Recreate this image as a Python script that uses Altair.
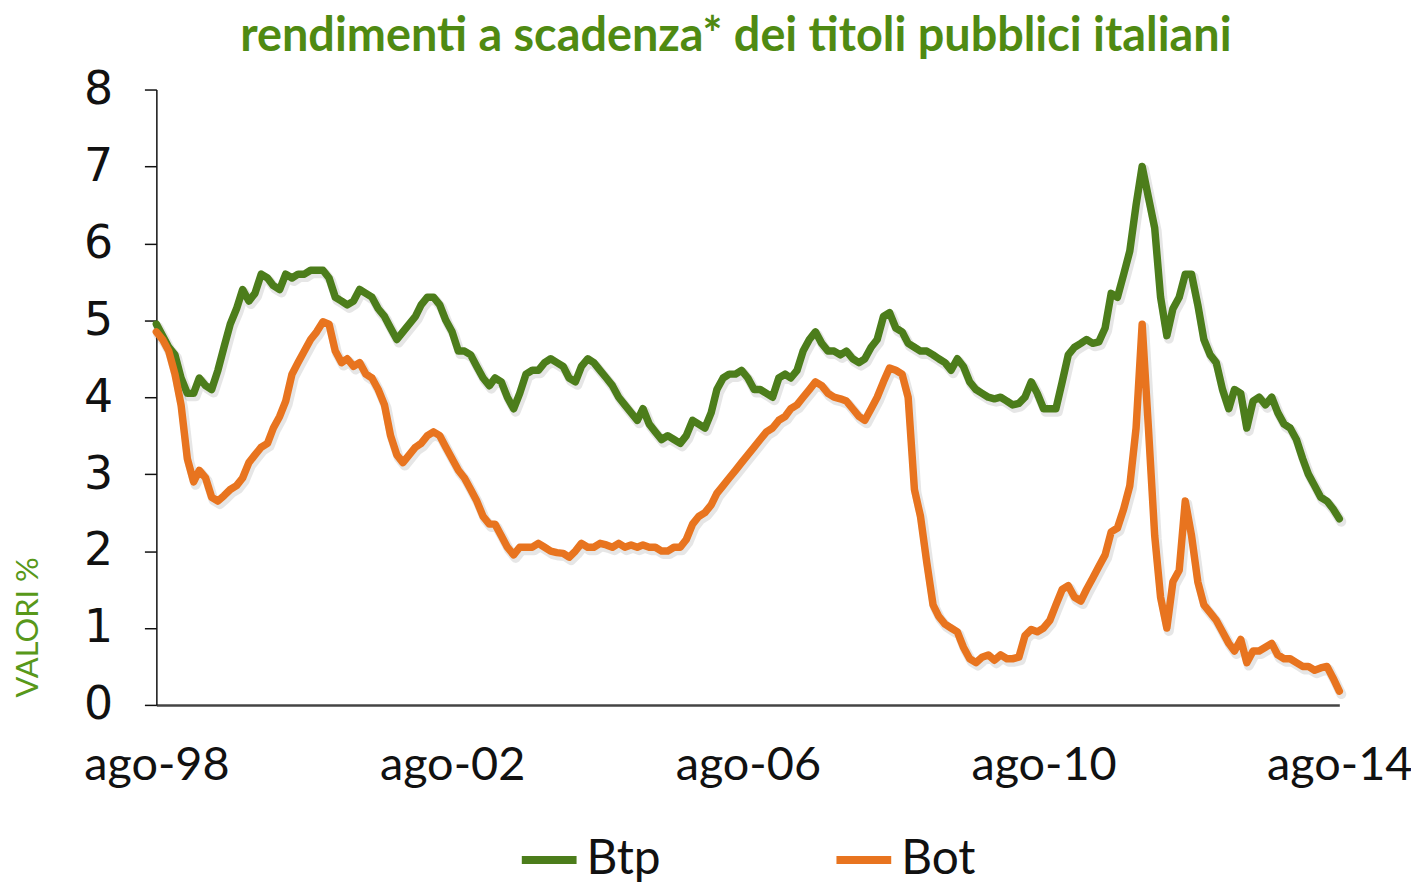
import altair as alt
import pandas as pd

# Monthly observations, ago-1998 .. ago-2014 (193 months)
btp = [
    4.95, 4.8, 4.65, 4.55, 4.25, 4.05, 4.05, 4.25, 4.15, 4.1,
    4.35, 4.65, 4.95, 5.15, 5.4, 5.25, 5.35, 5.6, 5.55, 5.45,
    5.4, 5.6, 5.55, 5.6, 5.6, 5.65, 5.65, 5.65, 5.55, 5.3,
    5.25, 5.2, 5.25, 5.4, 5.35, 5.3, 5.15, 5.05, 4.9, 4.75,
    4.85, 4.95, 5.05, 5.2, 5.3, 5.3, 5.2, 5.0, 4.85, 4.6,
    4.6, 4.55, 4.4, 4.25, 4.15, 4.25, 4.2, 4.0, 3.85, 4.05,
    4.3, 4.35, 4.35, 4.45, 4.5, 4.45, 4.4, 4.25, 4.2, 4.4,
    4.5, 4.45, 4.35, 4.25, 4.15, 4.0, 3.9, 3.8, 3.7, 3.85,
    3.65, 3.55, 3.45, 3.5, 3.45, 3.4, 3.5, 3.7, 3.65, 3.6,
    3.8, 4.1, 4.25, 4.3, 4.3, 4.35, 4.25, 4.1, 4.1, 4.05,
    4.0, 4.25, 4.3, 4.25, 4.35, 4.6, 4.75, 4.85, 4.7, 4.6,
    4.6, 4.55, 4.6, 4.5, 4.45, 4.5, 4.65, 4.75, 5.05, 5.1,
    4.9, 4.85, 4.7, 4.65, 4.6, 4.6, 4.55, 4.5, 4.45, 4.35,
    4.5, 4.4, 4.2, 4.1, 4.05, 4.0, 3.98, 4.0, 3.95, 3.9,
    3.92, 4.0, 4.2, 4.05, 3.85, 3.85, 3.85, 4.2, 4.55, 4.65,
    4.7, 4.75, 4.7, 4.72, 4.9, 5.35, 5.3, 5.6, 5.9, 6.5,
    7.0, 6.6, 6.2, 5.3, 4.8, 5.15, 5.3, 5.6, 5.6, 5.2,
    4.75, 4.55, 4.45, 4.1, 3.85, 4.1, 4.05, 3.6, 3.95, 4.0,
    3.9, 4.0, 3.8, 3.65, 3.6, 3.45, 3.2, 3.0, 2.85, 2.7,
    2.65, 2.55, 2.42,
]

bot = [
    4.85, 4.75, 4.6, 4.3, 3.9, 3.2, 2.9, 3.05, 2.95, 2.7,
    2.65, 2.72, 2.8, 2.85, 2.95, 3.15, 3.25, 3.35, 3.4, 3.6,
    3.75, 3.95, 4.3, 4.45, 4.6, 4.75, 4.85, 4.98, 4.95, 4.6,
    4.45, 4.5, 4.4, 4.45, 4.3, 4.25, 4.1, 3.9, 3.5, 3.25,
    3.15, 3.25, 3.35, 3.4, 3.5, 3.55, 3.5, 3.35, 3.2, 3.05,
    2.95, 2.8, 2.65, 2.45, 2.35, 2.35, 2.2, 2.05, 1.95, 2.05,
    2.05, 2.05, 2.1, 2.05, 2.0, 1.98, 1.97, 1.92, 2.0, 2.1,
    2.05, 2.05, 2.1, 2.08, 2.05, 2.1, 2.05, 2.08, 2.05, 2.08,
    2.05, 2.05, 2.0, 2.0, 2.05, 2.05, 2.15, 2.35, 2.45, 2.5,
    2.6, 2.75, 2.85, 2.95, 3.05, 3.15, 3.25, 3.35, 3.45, 3.55,
    3.6, 3.7, 3.75, 3.85, 3.9, 4.0, 4.1, 4.2, 4.15, 4.05,
    4.0, 3.98, 3.95, 3.85, 3.75, 3.7, 3.85, 4.0, 4.2, 4.38,
    4.35, 4.3, 4.0, 2.8, 2.45, 1.85, 1.3, 1.15, 1.05, 1.0,
    0.95, 0.75, 0.6, 0.55, 0.62, 0.65, 0.58, 0.65, 0.6, 0.6,
    0.62, 0.9, 0.98, 0.95, 1.0, 1.1, 1.3, 1.5, 1.55, 1.4,
    1.35, 1.5, 1.65, 1.8, 1.95, 2.25, 2.3, 2.55, 2.85, 3.6,
    4.95, 3.6, 2.2, 1.4, 1.0, 1.6, 1.75, 2.65, 2.2, 1.6,
    1.3, 1.2, 1.1, 0.95, 0.8, 0.7, 0.85, 0.55, 0.7, 0.7,
    0.75, 0.8, 0.65, 0.6, 0.6, 0.55, 0.5, 0.5, 0.45, 0.48,
    0.5, 0.35, 0.18,
]

series_names = ["Btp", "Bot"]
series_colors = ["#4c7d1b", "#e8741f"]
tick_years = [1998, 2002, 2006, 2010, 2014]

months = pd.date_range("1998-08-01", periods=len(btp), freq="MS")
df = pd.concat([
    pd.DataFrame({"data": months.strftime("%Y-%m-%d"), "valore": btp, "serie": "Btp"}),
    pd.DataFrame({"data": months.strftime("%Y-%m-%d"), "valore": bot, "serie": "Bot"}),
])

x_enc = alt.X(
    "data:T",
    scale=alt.Scale(
        type="utc",
        domain=[alt.DateTime(year=1998, month=8, date=1, utc=True),
                alt.DateTime(year=2014, month=8, date=1, utc=True)],
    ),
    axis=alt.Axis(
        values=[alt.DateTime(year=y, month=8, date=1, utc=True) for y in tick_years],
        labelExpr="'ago-' + utcFormat(datum.value, '%y')",
        title=None,
        ticks=False,
        grid=False,
        domainColor="#444444",
        domainWidth=2.5,
        labelFont="Lato",
        labelFontSize=47,
        labelColor="#111111",
        labelPadding=38,
        labelFlush=False,
        labelOverlap=False,
    ),
)

y_enc = alt.Y(
    "valore:Q",
    scale=alt.Scale(domain=[0, 8], nice=False),
    axis=alt.Axis(
        values=[0, 1, 2, 3, 4, 5, 6, 7, 8],
        grid=False,
        tickSize=12,
        tickColor="#111111",
        tickWidth=1.5,
        domainColor="#111111",
        domainWidth=1.5,
        labelFont="DejaVu Sans",
        labelFontSize=46,
        labelColor="#111111",
        labelPadding=32,
        title="VALORI %",
        titleFont="Lato",
        titleFontSize=31,
        titleFontWeight="normal",
        titleColor="#58981a",
        titleAngle=270,
        titleAlign="left",
        titleBaseline="top",
        titleX=-143,
        titleY=610,
    ),
)

color_enc = alt.Color(
    "serie:N",
    scale=alt.Scale(domain=series_names, range=series_colors),
    sort=series_names,
    legend=alt.Legend(
        title=None,
        orient="none",
        direction="horizontal",
        legendX=363,
        legendY=742,
        symbolType="stroke",
        symbolSize=3025,
        symbolStrokeWidth=8,
        labelFont="Lato",
        labelFontSize=48,
        labelColor="#111111",
        labelOffset=6,
        columnPadding=160,
    ),
)

shadow = alt.Chart(df).mark_line(
    strokeWidth=10, opacity=0.12, color="#333333", xOffset=2, yOffset=3,
    strokeJoin="round", strokeCap="round",
).encode(x=x_enc, y=y_enc, detail="serie:N")

lines = alt.Chart(df).mark_line(
    strokeWidth=7.5, strokeJoin="round", strokeCap="round",
).encode(x=x_enc, y=y_enc, color=color_enc)

chart = alt.layer(shadow, lines).properties(
    width=1188,
    height=618,
    autosize=alt.AutoSizeParams(type="none"),
    padding={"left": 149, "top": 80, "right": 72, "bottom": 182},
    title=alt.TitleParams(
        text="rendimenti a scadenza* dei titoli pubblici italiani",
        font="Lato",
        fontSize=47,
        fontWeight="bold",
        color="#4f8a12",
        anchor="middle",
        dx=-12,
        offset=6,
    ),
).configure_view(stroke=None)

chart.save("out.html", embed_options={"renderer": "svg", "actions": False})
